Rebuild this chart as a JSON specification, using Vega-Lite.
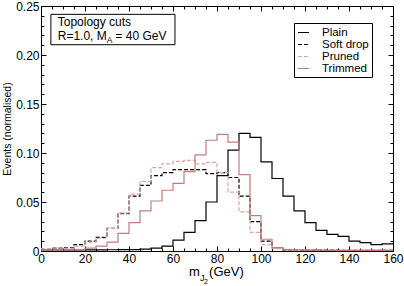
{
  "$schema": "https://vega.github.io/schema/vega-lite/v6.json",
  "width": 352,
  "height": 245,
  "autosize": "none",
  "padding": {"left": 41, "top": 6, "right": 11, "bottom": 35},
  "config": {
    "font": "Liberation Sans",
    "view": {"stroke": "black", "strokeWidth": 1},
    "axis": {"labelFont": "Liberation Sans", "labelFontSize": 12, "labelColor": "black", "tickColor": "black", "domainColor": "black", "grid": false, "titleFont": "Liberation Sans", "titleFontSize": 10.5, "titleFontWeight": "normal", "titleColor": "black", "tickWidth": 1, "domainWidth": 1, "labelOverlap": false, "labelFlush": false}
  },
  "datasets": {
    "hist": [
      {"series":"Plain","x":0,"y":0.001},{"series":"Plain","x":5,"y":0.001},{"series":"Plain","x":10,"y":0.001},{"series":"Plain","x":15,"y":0.001},{"series":"Plain","x":20,"y":0.0012},{"series":"Plain","x":25,"y":0.0012},{"series":"Plain","x":30,"y":0.0013},{"series":"Plain","x":35,"y":0.0015},{"series":"Plain","x":40,"y":0.0015},{"series":"Plain","x":45,"y":0.002},{"series":"Plain","x":50,"y":0.003},{"series":"Plain","x":55,"y":0.005},{"series":"Plain","x":60,"y":0.011},{"series":"Plain","x":65,"y":0.019},{"series":"Plain","x":70,"y":0.031},{"series":"Plain","x":75,"y":0.050},{"series":"Plain","x":80,"y":0.077},{"series":"Plain","x":85,"y":0.103},{"series":"Plain","x":90,"y":0.120},{"series":"Plain","x":95,"y":0.116},{"series":"Plain","x":100,"y":0.091},{"series":"Plain","x":105,"y":0.074},{"series":"Plain","x":110,"y":0.056},{"series":"Plain","x":115,"y":0.041},{"series":"Plain","x":120,"y":0.029},{"series":"Plain","x":125,"y":0.021},{"series":"Plain","x":130,"y":0.017},{"series":"Plain","x":135,"y":0.015},{"series":"Plain","x":140,"y":0.010},{"series":"Plain","x":145,"y":0.0086},{"series":"Plain","x":150,"y":0.0066},{"series":"Plain","x":155,"y":0.0072},{"series":"Plain","x":160,"y":0.0072},
      {"series":"Soft drop","x":0,"y":0.0025},{"series":"Soft drop","x":5,"y":0.003},{"series":"Soft drop","x":10,"y":0.0035},{"series":"Soft drop","x":15,"y":0.0065},{"series":"Soft drop","x":20,"y":0.010},{"series":"Soft drop","x":25,"y":0.014},{"series":"Soft drop","x":30,"y":0.023},{"series":"Soft drop","x":35,"y":0.038},{"series":"Soft drop","x":40,"y":0.056},{"series":"Soft drop","x":45,"y":0.067},{"series":"Soft drop","x":50,"y":0.077},{"series":"Soft drop","x":55,"y":0.080},{"series":"Soft drop","x":60,"y":0.083},{"series":"Soft drop","x":65,"y":0.083},{"series":"Soft drop","x":70,"y":0.083},{"series":"Soft drop","x":75,"y":0.079},{"series":"Soft drop","x":80,"y":0.080},{"series":"Soft drop","x":85,"y":0.075},{"series":"Soft drop","x":90,"y":0.056},{"series":"Soft drop","x":95,"y":0.030},{"series":"Soft drop","x":100,"y":0.010},{"series":"Soft drop","x":105,"y":0.0035},{"series":"Soft drop","x":110,"y":0.0012},{"series":"Soft drop","x":115,"y":0.001},{"series":"Soft drop","x":120,"y":0.0008},{"series":"Soft drop","x":125,"y":0.0008},{"series":"Soft drop","x":130,"y":0.0008},{"series":"Soft drop","x":135,"y":0.0007},{"series":"Soft drop","x":140,"y":0.0007},{"series":"Soft drop","x":145,"y":0.0007},{"series":"Soft drop","x":150,"y":0.0006},{"series":"Soft drop","x":155,"y":0.0006},{"series":"Soft drop","x":160,"y":0.0006},
      {"series":"Pruned","x":0,"y":0.0025},{"series":"Pruned","x":5,"y":0.003},{"series":"Pruned","x":10,"y":0.003},{"series":"Pruned","x":15,"y":0.005},{"series":"Pruned","x":20,"y":0.009},{"series":"Pruned","x":25,"y":0.013},{"series":"Pruned","x":30,"y":0.023},{"series":"Pruned","x":35,"y":0.039},{"series":"Pruned","x":40,"y":0.058},{"series":"Pruned","x":45,"y":0.071},{"series":"Pruned","x":50,"y":0.085},{"series":"Pruned","x":55,"y":0.089},{"series":"Pruned","x":60,"y":0.0915},{"series":"Pruned","x":65,"y":0.0925},{"series":"Pruned","x":70,"y":0.089},{"series":"Pruned","x":75,"y":0.0905},{"series":"Pruned","x":80,"y":0.080},{"series":"Pruned","x":85,"y":0.060},{"series":"Pruned","x":90,"y":0.040},{"series":"Pruned","x":95,"y":0.019},{"series":"Pruned","x":100,"y":0.0065},{"series":"Pruned","x":105,"y":0.0025},{"series":"Pruned","x":110,"y":0.0012},{"series":"Pruned","x":115,"y":0.001},{"series":"Pruned","x":120,"y":0.0008},{"series":"Pruned","x":125,"y":0.0008},{"series":"Pruned","x":130,"y":0.0007},{"series":"Pruned","x":135,"y":0.0007},{"series":"Pruned","x":140,"y":0.0007},{"series":"Pruned","x":145,"y":0.0006},{"series":"Pruned","x":150,"y":0.0006},{"series":"Pruned","x":155,"y":0.0006},{"series":"Pruned","x":160,"y":0.0006},
      {"series":"Trimmed","x":0,"y":0.0008},{"series":"Trimmed","x":5,"y":0.0008},{"series":"Trimmed","x":10,"y":0.001},{"series":"Trimmed","x":15,"y":0.0012},{"series":"Trimmed","x":20,"y":0.003},{"series":"Trimmed","x":25,"y":0.005},{"series":"Trimmed","x":30,"y":0.009},{"series":"Trimmed","x":35,"y":0.018},{"series":"Trimmed","x":40,"y":0.029},{"series":"Trimmed","x":45,"y":0.041},{"series":"Trimmed","x":50,"y":0.051},{"series":"Trimmed","x":55,"y":0.062},{"series":"Trimmed","x":60,"y":0.069},{"series":"Trimmed","x":65,"y":0.081},{"series":"Trimmed","x":70,"y":0.098},{"series":"Trimmed","x":75,"y":0.113},{"series":"Trimmed","x":80,"y":0.119},{"series":"Trimmed","x":85,"y":0.111},{"series":"Trimmed","x":90,"y":0.078},{"series":"Trimmed","x":95,"y":0.036},{"series":"Trimmed","x":100,"y":0.012},{"series":"Trimmed","x":105,"y":0.0035},{"series":"Trimmed","x":110,"y":0.0014},{"series":"Trimmed","x":115,"y":0.001},{"series":"Trimmed","x":120,"y":0.0008},{"series":"Trimmed","x":125,"y":0.0008},{"series":"Trimmed","x":130,"y":0.0007},{"series":"Trimmed","x":135,"y":0.0007},{"series":"Trimmed","x":140,"y":0.0007},{"series":"Trimmed","x":145,"y":0.0006},{"series":"Trimmed","x":150,"y":0.0006},{"series":"Trimmed","x":155,"y":0.0006},{"series":"Trimmed","x":160,"y":0.0006}
    ]
  },
  "resolve": {"axis": {"x": "independent", "y": "independent"}},
  "layer": [
    {
      "data": {"name": "hist"},
      "mark": {"type": "line", "interpolate": "step-after", "strokeWidth": 1.2, "clip": true},
      "encoding": {
        "x": {"field": "x", "type": "quantitative", "scale": {"domain": [0, 160], "nice": false, "zero": false},
          "axis": {"orient": "bottom", "values": [0,5,10,15,20,25,30,35,40,45,50,55,60,65,70,75,80,85,90,95,100,105,110,115,120,125,130,135,140,145,150,155,160],
            "labelExpr": "datum.value % 20 === 0 ? datum.label : ''", "format": "d",
            "tickSize": {"condition": {"test": "datum.value % 20 === 0", "value": -5}, "value": -3},
            "labelPadding": 7, "title": null}},
        "y": {"field": "y", "type": "quantitative", "scale": {"domain": [0, 0.25], "nice": false},
          "axis": {"orient": "left", "values": [0,0.01,0.02,0.03,0.04,0.05,0.06,0.07,0.08,0.09,0.1,0.11,0.12,0.13,0.14,0.15,0.16,0.17,0.18,0.19,0.2,0.21,0.22,0.23,0.24,0.25],
            "labelExpr": "round(datum.value*100) % 5 === 0 ? (datum.value === 0 ? '0' : format(datum.value, '.2f')) : ''",
            "tickSize": {"condition": {"test": "round(datum.value*100) % 5 === 0", "value": -5}, "value": -3},
            "labelPadding": 7, "title": "Events (normalised)", "titlePadding": 3}},
        "color": {"field": "series", "type": "nominal",
          "scale": {"domain": ["Plain", "Soft drop", "Pruned", "Trimmed"], "range": ["#000000", "#000000", "#dca4a4", "#c27c7c"]},
          "legend": {"title": null, "orient": "none", "legendX": 253, "legendY": 17, "strokeColor": "black", "fillColor": "white", "padding": 3, "labelFontSize": 11.5, "labelFont": "Liberation Sans", "labelColor": "black", "symbolType": "stroke", "symbolStrokeWidth": 1.2, "symbolSize": 120, "rowPadding": 0, "labelOffset": 12}},
        "strokeDash": {"field": "series", "type": "nominal",
          "scale": {"domain": ["Plain", "Soft drop", "Pruned", "Trimmed"], "range": [[1, 0], [4, 2], [4, 2], [1, 0]]},
          "legend": {"title": null, "orient": "none", "legendX": 253, "legendY": 17, "strokeColor": "black", "fillColor": "white", "padding": 3, "labelFontSize": 11.5, "labelFont": "Liberation Sans", "labelColor": "black", "symbolType": "stroke", "symbolStrokeWidth": 1.2, "symbolSize": 120, "rowPadding": 0, "labelOffset": 12}}
      }
    },
    {
      "data": {"values": [{}]},
      "mark": {"type": "point", "opacity": 0},
      "encoding": {
        "x": {"datum": 0, "type": "quantitative",
          "axis": {"orient": "top", "values": [0,5,10,15,20,25,30,35,40,45,50,55,60,65,70,75,80,85,90,95,100,105,110,115,120,125,130,135,140,145,150,155,160],
            "labels": false, "title": null,
            "tickSize": {"condition": {"test": "datum.value % 20 === 0", "value": -5}, "value": -3}}},
        "y": {"datum": 0, "type": "quantitative",
          "axis": {"orient": "right", "values": [0,0.01,0.02,0.03,0.04,0.05,0.06,0.07,0.08,0.09,0.1,0.11,0.12,0.13,0.14,0.15,0.16,0.17,0.18,0.19,0.2,0.21,0.22,0.23,0.24,0.25],
            "labels": false, "title": null,
            "tickSize": {"condition": {"test": "round(datum.value*100) % 5 === 0", "value": -5}, "value": -3}}}
      }
    },
    {
      "data": {"values": [{}]},
      "mark": {"type": "rect", "fill": "white", "stroke": "black", "strokeWidth": 1},
      "encoding": {
        "x": {"datum": 4.5, "type": "quantitative", "axis": null},
        "x2": {"datum": 60.9},
        "y": {"datum": 0.2105, "type": "quantitative", "axis": null},
        "y2": {"datum": 0.2415}
      }
    },
    {
      "data": {"values": [{"label": "Topology cuts", "px": 7.6, "py": 0.2293}, {"label": "R=1.0, M", "px": 7.6, "py": 0.2150}, {"label": "= 40 GeV", "px": 33.8, "py": 0.2150}]},
      "mark": {"type": "text", "align": "left", "baseline": "alphabetic", "fontSize": 12, "font": "Liberation Sans", "color": "black"},
      "encoding": {
        "x": {"field": "px", "type": "quantitative", "axis": null},
        "y": {"field": "py", "type": "quantitative", "axis": null},
        "text": {"field": "label"}
      }
    },
    {
      "data": {"values": [{"label": "A", "px": 29.9, "py": 0.2125}]},
      "mark": {"type": "text", "align": "left", "baseline": "alphabetic", "fontSize": 8.5, "font": "Liberation Sans", "color": "black"},
      "encoding": {
        "x": {"field": "px", "type": "quantitative", "axis": null},
        "y": {"field": "py", "type": "quantitative", "axis": null},
        "text": {"field": "label"}
      }
    },
    {
      "data": {"values": [{"label": "m", "px": 67.3, "py": -0.0258}, {"label": "(GeV)", "px": 76.4, "py": -0.0258}]},
      "mark": {"type": "text", "align": "left", "baseline": "alphabetic", "fontSize": 13, "font": "Liberation Sans", "color": "black"},
      "encoding": {
        "x": {"field": "px", "type": "quantitative", "axis": null},
        "y": {"field": "py", "type": "quantitative", "axis": null},
        "text": {"field": "label"}
      }
    },
    {
      "data": {"values": [{"label": "J", "px": 72.3, "py": -0.0304}]},
      "mark": {"type": "text", "align": "left", "baseline": "alphabetic", "fontSize": 9, "font": "Liberation Sans", "color": "black"},
      "encoding": {
        "x": {"field": "px", "type": "quantitative", "axis": null},
        "y": {"field": "py", "type": "quantitative", "axis": null},
        "text": {"field": "label"}
      }
    },
    {
      "data": {"values": [{"label": "2", "px": 74.1, "py": -0.0338}]},
      "mark": {"type": "text", "align": "left", "baseline": "alphabetic", "fontSize": 7, "font": "Liberation Sans", "color": "black"},
      "encoding": {
        "x": {"field": "px", "type": "quantitative", "axis": null},
        "y": {"field": "py", "type": "quantitative", "axis": null},
        "text": {"field": "label"}
      }
    }
  ]
}
